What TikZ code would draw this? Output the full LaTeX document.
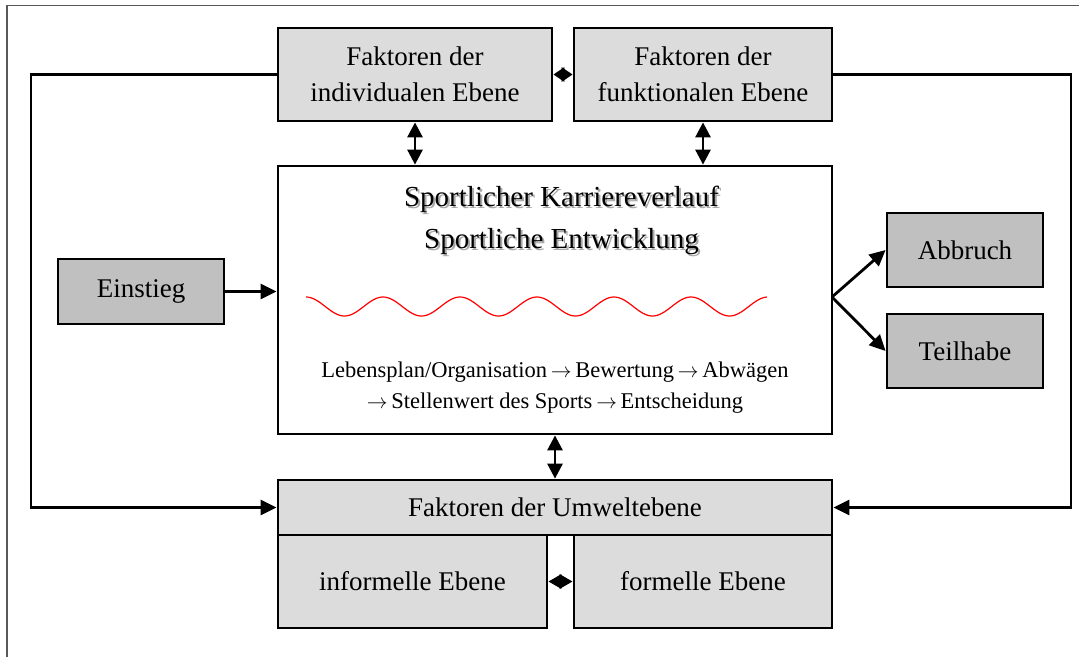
\documentclass[tikz,border=0pt]{standalone}
\usepackage{fontspec}
\setmainfont{Liberation Serif}
\usetikzlibrary{arrows.meta}
\definecolor{boxlight}{HTML}{DCDCDC}
\definecolor{boxdark}{HTML}{C0C0C0}
\definecolor{shadowgray}{HTML}{A8A8A8}
\newcommand{\stepto}{\,$\rightarrow$\,}
\begin{document}
\begin{tikzpicture}[x=1pt,y=-1pt,
  factor/.style={draw,line width=2.8pt,fill=boxlight,align=center,inner sep=0pt,
    font=\fontsize{27}{36}\selectfont},
  outcome/.style={draw,line width=2.8pt,fill=boxdark,align=center,inner sep=0pt,
    font=\fontsize{27}{32}\selectfont},
  mainbox/.style={draw,line width=2.8pt,fill=white,inner sep=0pt},
  conn/.style={line width=2.8pt,-{Triangle[length=16pt,width=15pt]}},
  both/.style={line width=2.8pt,{Triangle[length=15pt,width=15pt]}-{Triangle[length=15pt,width=15pt]}},
  pair/.style={line width=2.8pt,{Triangle[length=11pt,width=14pt]}-{Triangle[length=11pt,width=14pt]}},
  widepair/.style={line width=2.8pt,{Triangle[length=13pt,width=14pt]}-{Triangle[length=13pt,width=14pt]}},
  loop/.style={line width=2.8pt,-{Triangle[length=16pt,width=15pt]}}
]
\useasboundingbox (0,0) rectangle (1079,657);

% outer frame
\draw[gray!70!black,line width=1.5pt] (7,657) -- (7,5.5) -- (1079,5.5);

% factor boxes
\node[factor,minimum width=274pt,minimum height=93pt] (indiv) at (415,74.5)
  {Faktoren der\\individualen Ebene};
\node[factor,minimum width=258pt,minimum height=93pt] (funct) at (703,74.5)
  {Faktoren der\\funktionalen Ebene};
\node[mainbox,minimum width=554pt,minimum height=268pt] (career) at (555,300) {};
\node[factor,minimum width=554pt,minimum height=55pt] (umwelt) at (555,507.5)
  {Faktoren der Umweltebene};
\node[factor,minimum width=269pt,minimum height=93pt] (informal) at (412.5,581.5)
  {informelle Ebene};
\node[factor,minimum width=258pt,minimum height=93pt] (formal) at (703,581.5)
  {formelle Ebene};

% entry and outcomes
\node[outcome,minimum width=166pt,minimum height=65pt] (entry) at (141,291.5) {Einstieg};
\node[outcome,minimum width=156pt,minimum height=74pt] (dropout) at (965,250) {Abbruch};
\node[outcome,minimum width=156pt,minimum height=74pt] (participation) at (965,351) {Teilhabe};

% career box contents
\node[text=shadowgray,font=\fontsize{29}{42}\selectfont,align=center] (titleshadow) at (563.5,222)
  {Sportlicher Karriereverlauf\\Sportliche Entwicklung};
\node[font=\fontsize{29}{42}\selectfont,align=center] (title) at (561.5,220)
  {Sportlicher Karriereverlauf\\Sportliche Entwicklung};
\draw[red,line width=1.2pt] plot[domain=0:461,samples=240,smooth]
  ({\x+306},{306.5-9.5*cos(4.6753*\x)});
\node[font=\fontsize{22.5}{31}\selectfont,align=center] (steps) at (555,388)
  {Lebensplan/Organisation\stepto Bewertung\stepto Abwägen\\
   $\rightarrow$\,Stellenwert des Sports\stepto Entscheidung};

% connectors
\draw[pair] (indiv.east) -- (funct.west);
\draw[widepair] (informal.east) -- (informal.east -| formal.west);
\draw[both] (indiv.south) -- (indiv.south |- career.north);
\draw[both] (funct.south) -- (funct.south |- career.north);
\draw[both] (career.south) -- (umwelt.north);
\draw[conn] (entry.east) -- (entry.east -| career.west);
\coordinate (fan) at (832,297);
\draw[conn] (fan) -- (dropout.west);
\draw[conn] (fan) -- (participation.west);
\draw[loop] (indiv.west) -- (31,74.5) |- (umwelt.west);
\draw[loop] (funct.east) -- (1071,74.5) |- (umwelt.east);
\end{tikzpicture}
\end{document}
